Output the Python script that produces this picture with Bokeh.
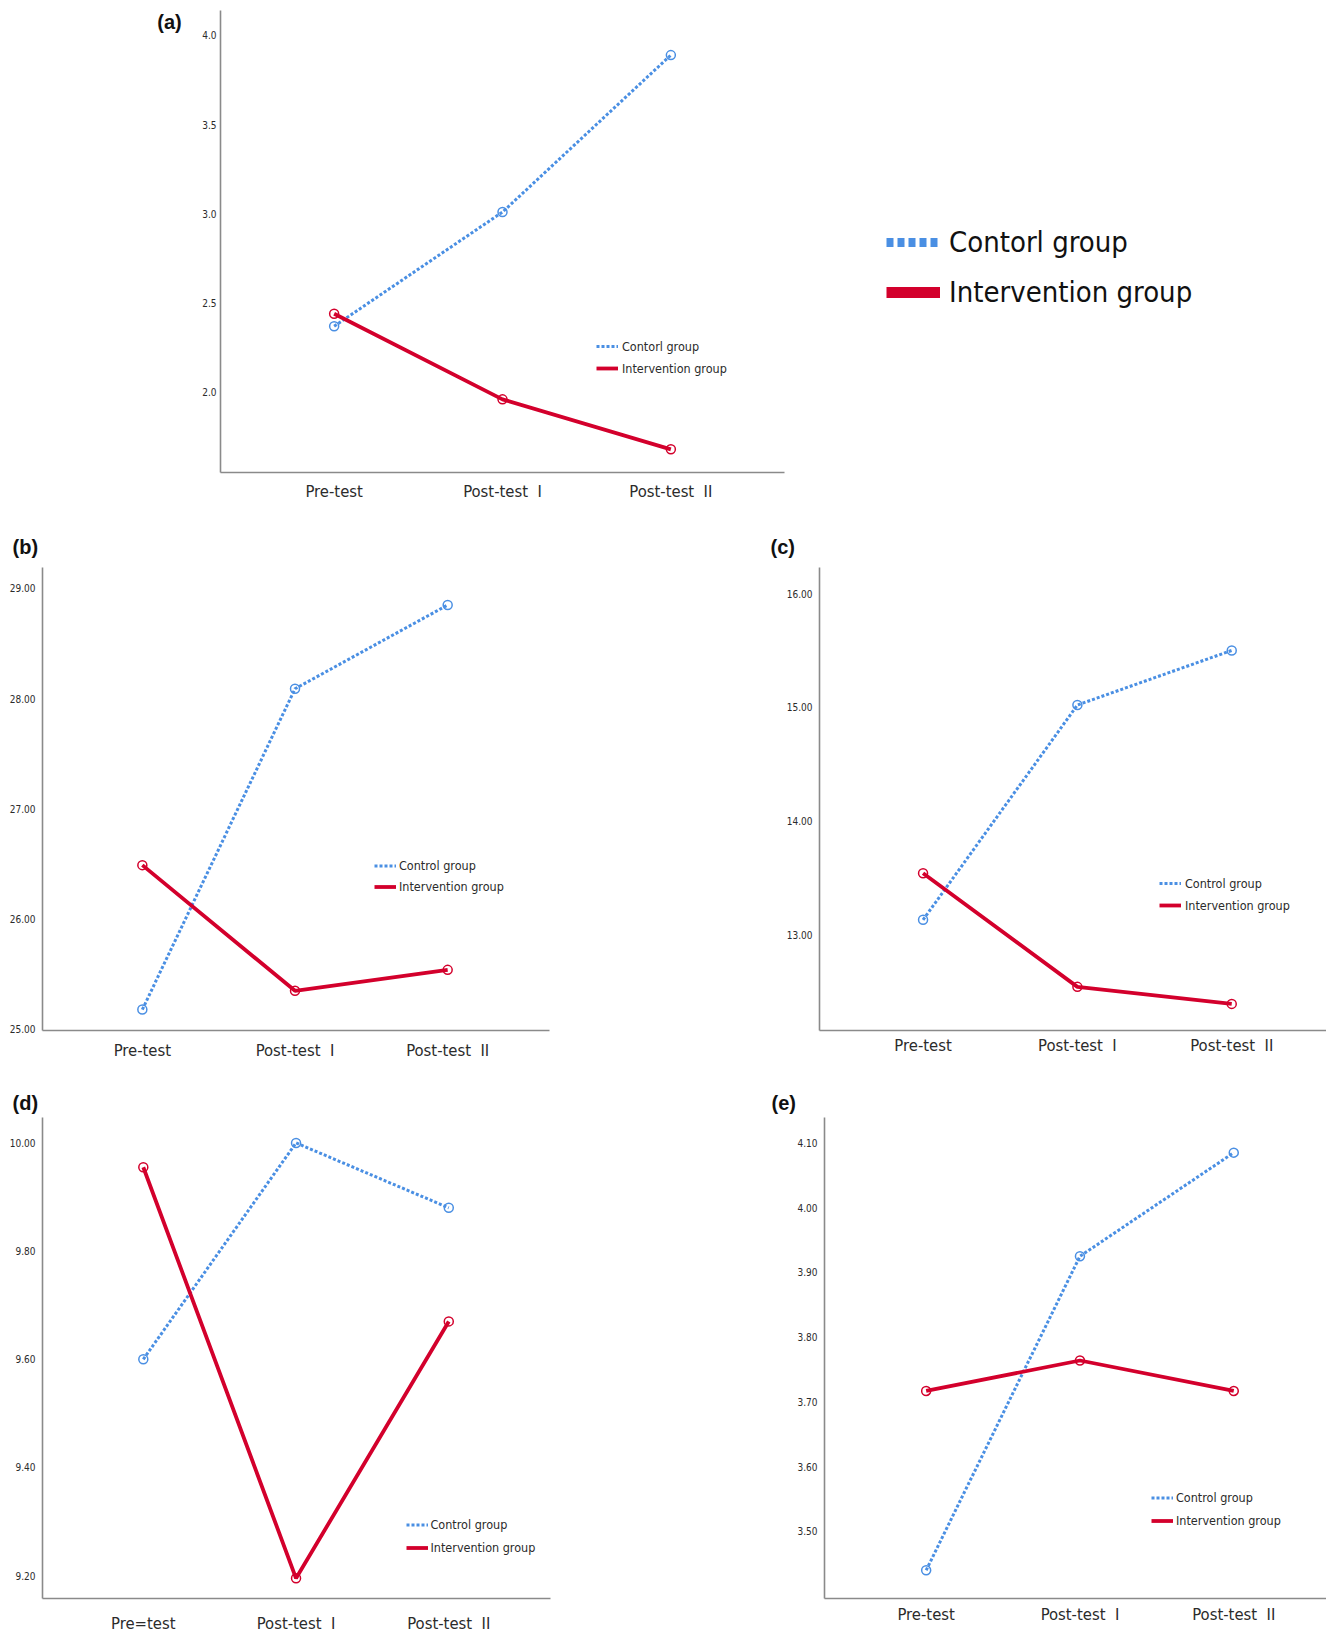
from bokeh.plotting import figure
from bokeh.models import Range1d, FixedTicker, PrintfTickFormatter, Legend, LegendItem, Label
from bokeh.layouts import row, column
from bokeh.embed import file_html
from bokeh.resources import INLINE

# ---------------- data ----------------
categories = ["Pre-test", "Post-test\u00a0\u00a0I", "Post-test\u00a0\u00a0II"]
categories_d = ["Pre=test", "Post-test\u00a0\u00a0I", "Post-test\u00a0\u00a0II"]
positions = [0, 1, 2]

a_control = [2.37, 3.01, 3.89]
a_interv = [2.44, 1.96, 1.68]
a_ticks = [2.0, 2.5, 3.0, 3.5, 4.0]

b_control = [25.18, 28.09, 28.85]
b_interv = [26.49, 25.35, 25.54]
b_ticks = [25.0, 26.0, 27.0, 28.0, 29.0]

c_control = [13.13, 15.02, 15.50]
c_interv = [13.54, 12.54, 12.39]
c_ticks = [13.0, 14.0, 15.0, 16.0]

d_control = [9.60, 10.00, 9.88]
d_interv = [9.955, 9.195, 9.67]
d_ticks = [9.2, 9.4, 9.6, 9.8, 10.0]

e_control = [3.44, 3.925, 4.085]
e_interv = [3.717, 3.764, 3.717]
e_ticks = [3.5, 3.6, 3.7, 3.8, 3.9, 4.0, 4.1]

legend_a = ["Contorl group", "Intervention group"]
legend_std = ["Control group", "Intervention group"]

BLUE = "#4a8fe3"
RED = "#d3002c"
AXIS = "#8a8a8a"
NARROW = "DejaVu Sans Condensed"
BOLD = "Liberation Sans"


def style_empty(p):
    p.outline_line_color = None
    p.xgrid.visible = False
    p.ygrid.visible = False


def panel(width, height, borders, xr, yr, ticks, fmt, control, interv, labels,
          leg_labels, leg_loc, leg_item_h, leg_standoff, tag=None, tag_offset=0,
          tag_standoff=8, x_standoff=9, y_standoff=5):
    l, r, t, b = borders
    p = figure(width=width, height=height, x_range=Range1d(*xr), y_range=Range1d(*yr),
               output_backend="svg", toolbar_location=None,
               min_border_left=l, min_border_right=r, min_border_top=t, min_border_bottom=b)
    style_empty(p)
    p.background_fill_color = "white"

    for ax in (p.xaxis[0], p.yaxis[0]):
        ax.axis_line_color = AXIS
        ax.axis_line_width = 1.6
        ax.major_tick_line_color = None
        ax.minor_tick_line_color = None
        ax.major_tick_out = 0
        ax.major_tick_in = 0
        ax.minor_tick_out = 0
        ax.minor_tick_in = 0
        ax.major_label_text_font = NARROW
        ax.major_label_text_color = "#2b2b2b"

    p.xaxis.ticker = FixedTicker(ticks=positions)
    p.xaxis.major_label_overrides = {pos: lab for pos, lab in zip(positions, labels)}
    p.xaxis.major_label_text_font_size = "16.5px"
    p.xaxis.major_label_standoff = x_standoff

    p.yaxis.ticker = FixedTicker(ticks=ticks)
    p.yaxis.formatter = PrintfTickFormatter(format=fmt)
    p.yaxis.major_label_text_font_size = "10px"
    p.yaxis.major_label_standoff = y_standoff

    rc = p.line(positions, control, line_color=BLUE, line_width=3, line_dash="3 2")
    p.scatter(positions, control, marker="circle", size=9, fill_color=None,
              line_color=BLUE, line_width=1.5)
    ri = p.line(positions, interv, line_color=RED, line_width=3.8)
    p.scatter(positions, interv, marker="circle", size=9, fill_color=None,
              line_color=RED, line_width=1.5)

    leg = Legend(items=[LegendItem(label=leg_labels[0], renderers=[rc]),
                        LegendItem(label=leg_labels[1], renderers=[ri])],
                 location=leg_loc, margin=0, padding=0, spacing=0,
                 glyph_width=22, glyph_height=leg_item_h, label_height=leg_item_h,
                 label_standoff=leg_standoff,
                 label_text_font=NARROW, label_text_font_size="12.5px",
                 label_text_color="#2b2b2b",
                 background_fill_alpha=0, border_line_color=None)
    p.add_layout(leg)

    if tag is not None:
        p.title.text = tag
        p.title.align = "left"
        p.title.offset = tag_offset
        p.title.standoff = tag_standoff
        p.title.text_font = BOLD
        p.title.text_font_style = "bold"
        p.title.text_font_size = "20px"
        p.title.text_color = "#111111"
    return p


# ================= row 1 (height 515, frame 10..472) =================
R1_H, R1_T, R1_B = 515, 10, 43

ptag = figure(width=196, height=R1_H, x_range=Range1d(0, 1), y_range=Range1d(0, 1),
              output_backend="svg", toolbar_location=None,
              x_axis_location=None, y_axis_location=None,
              min_border_left=0, min_border_right=0,
              min_border_top=R1_T, min_border_bottom=R1_B)
style_empty(ptag)
ptag.add_layout(Label(x=169, y=451, x_units="screen", y_units="screen",
                      text="(a)", text_align="center", text_baseline="middle",
                      text_font=BOLD, text_font_style="bold", text_font_size="20px",
                      text_color="#111111"))

pa = panel(604, R1_H, (24, 16, R1_T, R1_B), (-0.675, 2.675), (1.55, 4.14), a_ticks, "%.1f",
           a_control, a_interv, categories, legend_a, (376, 93), 22, 4,
           x_standoff=9, y_standoff=4)

pl = figure(width=526, height=R1_H, x_range=Range1d(0, 1), y_range=Range1d(0, 1),
            output_backend="svg", toolbar_location=None,
            x_axis_location=None, y_axis_location=None,
            min_border_left=0, min_border_right=0,
            min_border_top=R1_T, min_border_bottom=R1_B)
style_empty(pl)
lb = pl.line([5, 6], [5, 6], line_color=BLUE, line_width=9, line_dash="7 4")
lr = pl.line([5, 6], [5, 6], line_color=RED, line_width=11)
big = Legend(items=[LegendItem(label=legend_a[0], renderers=[lb]),
                    LegendItem(label=legend_a[1], renderers=[lr])],
             location=(86, 155), margin=0, padding=0, spacing=0,
             glyph_width=54, glyph_height=50, label_height=50, label_standoff=9,
             label_text_font=NARROW, label_text_font_size="29px",
             label_text_color="#111111",
             background_fill_alpha=0, border_line_color=None)
pl.add_layout(big)

# ================= row 2 (515..1085, frame 567..1030) =================
R2_H, R2_T, R2_B = 570, 52, 55

pb = panel(760, R2_H, (42, 211, R2_T, R2_B), (-0.654, 2.667), (24.99, 29.19), b_ticks, "%.2f",
           b_control, b_interv, categories, legend_std, (332, 133.5), 21, 3,
           tag="(b)", tag_offset=-30, tag_standoff=19.5, x_standoff=10, y_standoff=7)

pc = panel(566, R2_H, (59, 0, R2_T, R2_B), (-0.671, 2.614), (12.156, 16.23), c_ticks, "%.2f",
           c_control, c_interv, categories, legend_std, (340, 114), 22, 4,
           tag="(c)", tag_offset=-49, tag_standoff=19.5, x_standoff=5, y_standoff=7)

# ================= row 3 (1085..1635, frame 1117..1601) =================
R3_H, R3_T, R3_B = 550, 32, 34

pd_ = panel(760, R3_H, (42, 210, R3_T, R3_B), (-0.66, 2.666), (9.1577, 10.047), d_ticks, "%.2f",
            d_control, d_interv, categories_d, legend_std, (363.5, 39.5), 23, 3,
            tag="(d)", tag_offset=-30, tag_standoff=6.5, x_standoff=15, y_standoff=7)

pe = panel(566, R3_H, (64, 0, R3_T, R3_B), (-0.661, 2.603), (3.3964, 4.1393), e_ticks, "%.2f",
           e_control, e_interv, categories, legend_std, (327, 66.5), 23, 3,
           tag="(e)", tag_offset=-53, tag_standoff=6.5, x_standoff=6, y_standoff=7)

layout = column(row(ptag, pa, pl), row(pb, pc), row(pd_, pe))

open("out.html", "w").write(file_html(layout, INLINE))
